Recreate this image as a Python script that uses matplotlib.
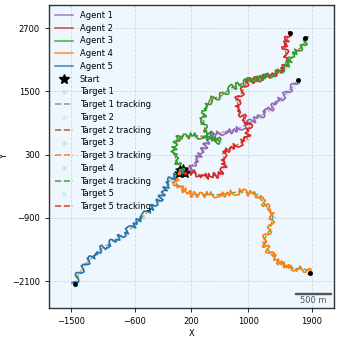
import numpy as np
import matplotlib
matplotlib.use("Agg")
import matplotlib.pyplot as plt
from matplotlib.lines import Line2D
from mpl_toolkits.axes_grid1.anchored_artists import AnchoredSizeBar

# paths (metres)
agent1_x = [70, 178, 277, 362, 461, 602, 841, 1025, 1166, 1307, 1448, 1546, 1631, 1702]
agent1_y = [-20, 15, 205, 395, 623, 717, 774, 907, 1021, 1154, 1344, 1476, 1590, 1723]

agent2_x = [90, 178, 390, 602, 672, 644, 771, 982, 1025, 884, 841, 912, 982, 1123, 1349, 1490, 1546, 1518, 1546, 1589]
agent2_y = [-20, -23, -117, -80, 110, 357, 433, 585, 870, 1097, 1344, 1476, 1685, 1723, 1818, 1913, 2103, 2349, 2482, 2615]

agent3_x = [70, -19, -47, -5, 37, 249, 418, 602, 390, 362, 461, 602, 771, 884, 1025, 1208, 1406, 1546, 1631, 1758, 1829, 1800]
agent3_y = [-20, 205, 395, 585, 642, 660, 642, 550, 774, 1021, 1344, 1400, 1571, 1628, 1723, 1761, 1856, 1970, 2197, 2349, 2482, 2520]

agent4_x = [60, -5, -33, 80, 221, 602, 884, 1123, 1264, 1349, 1307, 1208, 1307, 1448, 1589, 1829, 1871]
agent4_y = [-20, -100, -231, -364, -459, -459, -402, -459, -687, -876, -1123, -1351, -1560, -1749, -1844, -1882, -1939]

agent5_x = [60, -19, -104, -245, -484, -626, -809, -1091, -1274, -1415, -1444]
agent5_y = [-20, -100, -174, -554, -876, -1066, -1256, -1503, -1749, -2015, -2148]

agents = [(agent1_x, agent1_y), (agent2_x, agent2_y), (agent3_x, agent3_y),
          (agent4_x, agent4_y), (agent5_x, agent5_y)]
agent_colors = ["#9467bd", "#d62728", "#2ca02c", "#ff7f0e", "#1f77b4"]

# which agent follows which target
target_agent = [0, 1, 4, 3, 2]
target_dot_colors = ["slategray", "peru", "tab:green", "royalblue", "c"]
track_colors = ["#8c8c8c", "#a0522d", "#ff7f0e", "#2ca02c", "#e8261e"]

start_x = [40, 110, 75, 20, 65]
start_y = [0, -40, 30, -50, -25]

xticks = [-1500, -600, 200, 1000, 1900]
yticks = [-2100, -900, 300, 1500, 2700]

fig = plt.figure(figsize=(3.4, 3.39), dpi=100)
ax = fig.add_axes([0.144, 0.091, 0.838, 0.894])
ax.set_facecolor("#eef7fd")

handles, labels = [], []
for i, (xs, ys) in enumerate(agents):
    ln, = ax.plot(xs, ys, color=agent_colors[i], lw=1.2, zorder=3)
    ln.set_sketch_params(scale=3, length=6, randomness=8)
    ax.plot(xs[-1], ys[-1], "o", color="black", ms=2.5, zorder=6)
    handles.append(Line2D([], [], color=agent_colors[i], lw=1.2, alpha=0.8))
    labels.append(f"Agent {i+1}")

ax.scatter(start_x, start_y, marker="*", s=45, color="black", zorder=5)
for i in range(5):
    ax.plot(start_x[i], start_y[i], "o", color=agent_colors[i], ms=1.8, zorder=6)
handles.append(Line2D([], [], marker="*", ls="none", color="black", ms=7))
labels.append("Start")

for t in range(5):
    xs, ys = agents[target_agent[t]]
    ax.scatter(xs, ys, s=12, color=target_dot_colors[t], alpha=0.15, lw=0, zorder=2)
    ax.plot(xs, ys, "--", color=track_colors[t], lw=1.0, alpha=0.8, zorder=2.5)
    handles.append(Line2D([], [], marker="o", ls="none", color=target_dot_colors[t],
                          alpha=0.15, ms=3.5, mew=0))
    labels.append(f"Target {t+1}")
    handles.append(Line2D([], [], ls="--", color=track_colors[t], lw=1.2, alpha=0.85))
    labels.append(f"Target {t+1} tracking")

ax.set_xlim(-1810, 2210)
ax.set_ylim(-2612, 3136)
ax.set_xticks(xticks)
ax.set_yticks(yticks)
ax.set_xticklabels([f"{v:.0f}".replace("-", "\u2212") for v in xticks])
ax.set_yticklabels([f"{v:.0f}".replace("-", "\u2212") for v in yticks])
ax.tick_params(labelsize=6, length=3, width=0.6)
ax.grid(True, ls="--", color="#c8d0d8", lw=0.6, alpha=0.8)
ax.set_axisbelow(True)
for s in ax.spines.values():
    s.set_color("#333333")
    s.set_linewidth(1.0)
ax.set_xlabel("X", fontsize=6, labelpad=2)
ax.set_ylabel("Y", fontsize=6, labelpad=2)

ax.legend(handles, labels, loc="upper left", fontsize=6, frameon=False,
          handlelength=2.2, labelspacing=0.45, borderaxespad=0.3)

bar = AnchoredSizeBar(ax.transData, 500, "500 m", "lower right", pad=0.3,
                      color="#555555", frameon=False, size_vertical=35,
                      fontproperties={"size": 6}, sep=1)
ax.add_artist(bar)

fig.savefig("out.png", dpi=100)
